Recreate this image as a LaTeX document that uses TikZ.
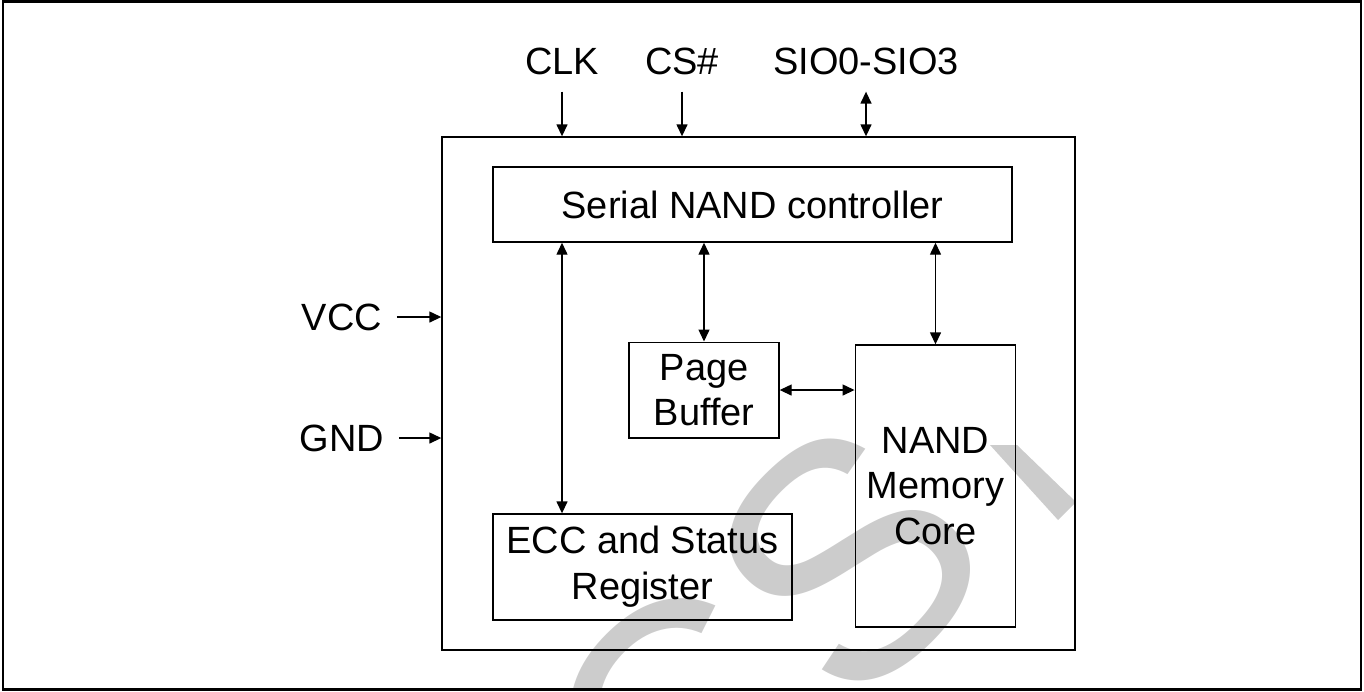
\documentclass[tikz,border=0pt]{standalone}
\usepackage{fontspec}
\setmainfont{Liberation Sans}
\usepackage{tikz}
\usetikzlibrary{arrows.meta}
\definecolor{wmgrey}{RGB}{204,204,204}
\newcommand{\labelfont}{\fontsize{10.8}{13}\selectfont}
\newcommand{\markfont}{\fontsize{95}{95}\selectfont}
\newcommand{\tipsize}{length=1.2mm, width=1.1mm}
\tikzset{
    common/.style={draw, rectangle, line width=0.4pt, align=center, font=\labelfont},
    chip/.style={common, minimum width=6.33cm, minimum height=5.13cm},
    ctrlbox/.style={common, minimum width=5.19cm, minimum height=0.75cm},
    bufbox/.style={common, minimum width=1.5cm, minimum height=0.9cm},
    corebox/.style={common, minimum width=1.59cm, minimum height=2.82cm},
    eccbox/.style={common, minimum width=2.99cm, minimum height=1.06cm},
    pin/.style={font=\labelfont, inner sep=0pt},
    sig/.style={-{Triangle[\tipsize]}, line width=0.4pt},
    bisig/.style={{Triangle[\tipsize]}-{Triangle[\tipsize]}, line width=0.4pt},
    watermark/.style={text=wmgrey, font=\markfont, inner sep=0pt, rotate=45}
}

\begin{document}
\begin{tikzpicture}[x=0.1mm, y=-0.1mm]
    \useasboundingbox (0,0) rectangle (1364,691);
    \begin{scope}
        \clip (3,2) rectangle (1361,689);
        \node[watermark] (wm) at (763,645) {CS};
        \fill[wmgrey] (990,445) -- (1017,445) -- (1076,502) -- (1058,520) -- cycle;
    \end{scope}
    \draw[line width=0.65pt] (3,1.5) rectangle (1361,689.5);

    \node[chip] (chip) at (758.5,393.5) {};
    \node[ctrlbox] (ctrl) at (752.5,204.5) {Serial NAND controller};
    \node[bufbox] (pb) at (704,390) {Page\\Buffer};
    \node[corebox] (core) at (935.5,486) {NAND\\Memory\\Core};
    \node[eccbox] (ecc) at (642.5,567) {ECC and Status\\Register};

    \node[pin] (clk) at (562,61) {CLK};
    \node[pin] (cs) at (682,61) {CS\#};
    \node[pin] (sio) at (866,61) {SIO0-SIO3};
    \node[pin] (vcc) at (342,317) {VCC};
    \node[pin] (gnd) at (342,438) {GND};

    \draw[sig] ([yshift=-1.65mm]clk.south) -- (clk |- chip.north);
    \draw[sig] ([yshift=-1.65mm]cs.south) -- (cs |- chip.north);
    \draw[bisig] ([yshift=-1.65mm]sio.south) -- (sio |- chip.north);
    \draw[sig] ([xshift=1.4mm]vcc.east) -- (vcc -| chip.west);
    \draw[sig] ([xshift=1.4mm]gnd.east) -- (gnd -| chip.west);

    \draw[bisig] (ctrl.south -| clk) -- (ecc.north -| clk);
    \draw[bisig] (ctrl.south -| pb) -- (pb.north);
    \draw[bisig] (ctrl.south -| core) -- (core.north);
    \draw[bisig] (pb.east) -- (pb.east -| core.west);
\end{tikzpicture}
\end{document}
